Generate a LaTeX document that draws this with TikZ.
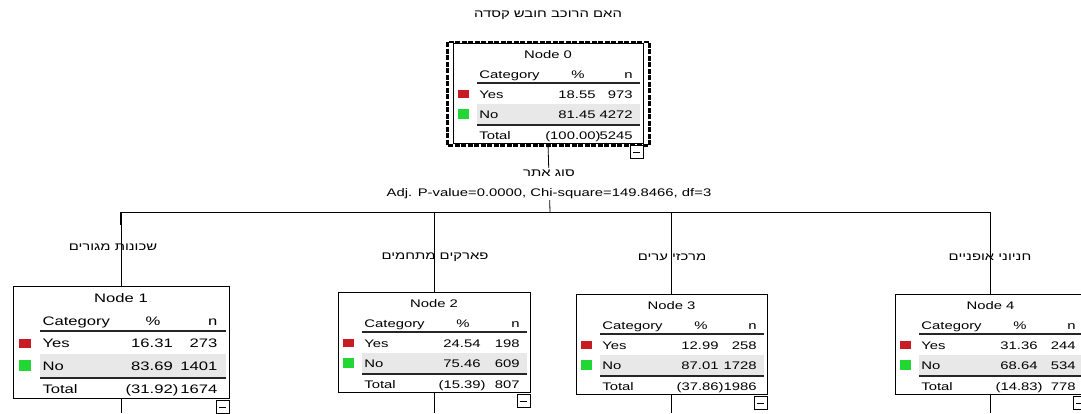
\documentclass[tikz,border=0pt]{standalone}
\usepackage{fontspec}
\setmainfont[FakeStretch=1.35]{Liberation Sans}
\newfontfamily\hebfont[Script=Hebrew,FakeStretch=1.35]{Liberation Sans}
\TeXXeTstate=1
\usepackage{tikz}
\usetikzlibrary{positioning}
\definecolor{treered}{RGB}{200,28,36}
\definecolor{treegreen}{RGB}{34,214,52}
\definecolor{treeband}{RGB}{232,232,232}
\newcommand{\heb}[1]{{\hebfont\beginR #1\endR}}

\begin{document}
\begin{tikzpicture}[x=1pt, y=-1pt, line width=0.8pt,
  every node/.style={font=\fontsize{11}{13}\selectfont, inner sep=0pt},
  box/.style={draw, line width=0.9pt, fill=white, inner sep=0pt},
  fold/.style={draw, line width=0.8pt, fill=white, minimum width=13pt, minimum height=13pt, inner sep=0pt},
  split/.style={fill=white, inner sep=2pt, align=center, font=\fontsize{11}{20}\selectfont},
  rule/.style={line width=1.4pt, black!85}]
  \fill[white] (0,0) rectangle (1081,413);
  \useasboundingbox (0,0) rectangle (1081,413);
  \coordinate (bus) at (550,212);
  \coordinate (floor) at (0,413);

  \node (title) at (548,15) {\heb{האם הרוכב חובש קסדה}};

  % tree nodes: id/left/top/width/scale/yes%/yes n/no%/no n/total%/total n
  \foreach \i/\bx/\by/\bw/\sc/\ypc/\yn/\npc/\nn/\tpc/\tn in {
      0/453/43/190/1/18.55/973/81.45/4272/(100.00)/5245,
      1/13/286/216/1.12/16.31/273/83.69/1401/(31.92)/1674,
      2/338/292/192/1/24.54/198/75.46/609/(15.39)/807,
      3/576/294/191/1/12.99/258/87.01/1728/(37.86)/1986,
      4/895/294/191/1/31.36/244/68.64/534/(14.83)/778} {
    \pgfmathsetmacro\fs{11*\sc}
    \tikzset{cell/.style={font=\fontsize{\fs}{\fs}\selectfont, inner sep=0pt}}
    \node[box, minimum width=\bw, minimum height=100*\sc] (n\i) at (\bx+\bw/2,\by+50*\sc) {};
    \fill[treeband] (\bx+24*\sc,\by+61*\sc) rectangle (\bx+\bw-3*\sc,\by+81*\sc);
    \draw[rule] (\bx+24*\sc,\by+40*\sc) -- (\bx+\bw-3*\sc,\by+40*\sc);
    \draw[rule] (\bx+24*\sc,\by+82*\sc) -- (\bx+\bw-3*\sc,\by+82*\sc);
    \fill[treered] (\bx+5*\sc,\by+47*\sc) rectangle (\bx+16*\sc,\by+55*\sc);
    \fill[treegreen] (\bx+5*\sc,\by+66*\sc) rectangle (\bx+16*\sc,\by+76*\sc);
    \node[cell, anchor=base] (n\i-head) at (\bx+\bw/2,\by+15*\sc) {Node \i};
    \node[cell, anchor=base west] (n\i-cat) at (\bx+26*\sc,\by+35*\sc) {Category};
    \node[cell, anchor=base] (n\i-pct) at (\bx+125*\sc,\by+35*\sc) {\%};
    \node[cell, anchor=base east] (n\i-n) at (\bx+\bw-10*\sc,\by+35*\sc) {n};
    \node[cell, anchor=base west] (n\i-yes) at (\bx+26*\sc,\by+55*\sc) {Yes};
    \node[cell, anchor=base east] (n\i-yespct) at (\bx+143*\sc,\by+55*\sc) {\ypc};
    \node[cell, anchor=base east] (n\i-yesn) at (\bx+\bw-10*\sc,\by+55*\sc) {\yn};
    \node[cell, anchor=base west] (n\i-no) at (\bx+26*\sc,\by+75*\sc) {No};
    \node[cell, anchor=base east] (n\i-nopct) at (\bx+143*\sc,\by+75*\sc) {\npc};
    \node[cell, anchor=base east] (n\i-non) at (\bx+\bw-10*\sc,\by+75*\sc) {\nn};
    \node[cell, anchor=base west] (n\i-tot) at (\bx+26*\sc,\by+96*\sc) {Total};
    \node[cell, anchor=base east] (n\i-totpct) at (\bx+148*\sc,\by+96*\sc) {\tpc};
    \node[cell, anchor=base east] (n\i-totn) at (\bx+\bw-10*\sc,\by+96*\sc) {\tn};
  }

  % selected root
  \draw[line width=2.6pt, dash pattern=on 5pt off 1.5pt] ([shift={(-5pt,0.5pt)}]n0.north west) rectangle ([shift={(6pt,-2pt)}]n0.south east);

  % branches
  \draw (n0.south) -- (bus);
  \draw (n1.north |- bus) -- (n4.north |- bus);
  \draw[line width=2.6pt] (n1.north |- bus) -- ++(0,13);
  \foreach \i in {1,...,4} {
    \draw (n\i.north |- bus) -- (n\i.north);
    \draw (n\i.south) -- (n\i.south |- floor);
  }
  \foreach \i in {0,...,4} {
    \node[fold, anchor=north east] (n\i-fold) at ([yshift=-2pt]n\i.south east) {};
    \draw ([xshift=3pt]n\i-fold.west) -- ([xshift=-3pt]n\i-fold.east);
  }

  \node[split] (splitvar) at (549,184) {\heb{סוג אתר}\\Adj. P-value=0.0000, Chi-square=149.8466, df=3};
  \node (lab1) at (113,247) {\heb{שכונות מגורים}};
  \node (lab2) at (435,257) {\heb{פארקים מתחמים}};
  \node (lab3) at (672,257) {\heb{מרכזי ערים}};
  \node (lab4) at (990,257) {\heb{חניוני אופניים}};
\end{tikzpicture}
\end{document}
